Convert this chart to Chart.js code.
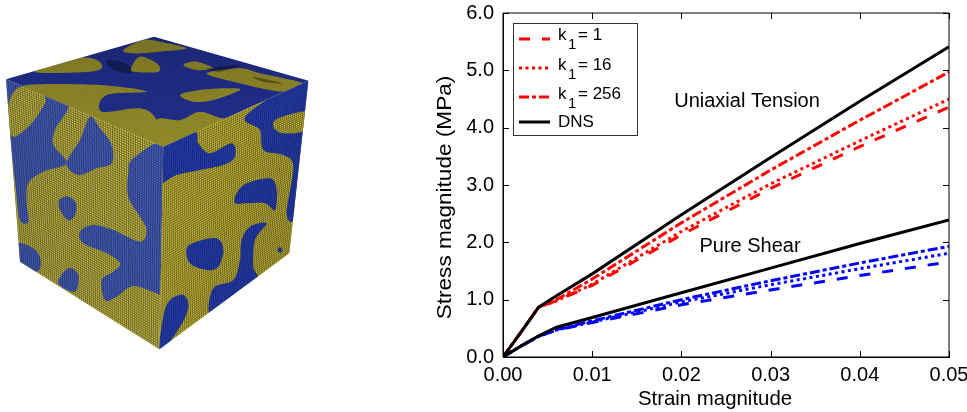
<!DOCTYPE html>
<html>
<head>
<meta charset="utf-8">
<title>Stress vs strain</title>
<script src="https://cdn.jsdelivr.net/npm/chart.js@4"></script>
<style>
html, body { margin: 0; padding: 0; background: #fff; }
#wrap { position: relative; width: 967px; height: 412px; }
</style>
</head>
<body>
<div id="wrap"><canvas id="myChart" width="967" height="412"></canvas></div>
<script>
// values
const strain = [0, 0.002, 0.004, 0.006, 0.01, 0.02, 0.03, 0.04, 0.05];
const tensionDns = [0, 0.43, 0.87, 1.07, 1.45, 2.48, 3.48, 4.46, 5.41];
const tensionK1 = [0, 0.43, 0.87, 0.98, 1.25, 2.13, 2.94, 3.67, 4.36];
const tensionK16 = [0, 0.43, 0.87, 0.98, 1.27, 2.19, 3.02, 3.77, 4.50];
const tensionK256 = [0, 0.43, 0.87, 1.00, 1.36, 2.34, 3.26, 4.13, 4.97];
const shearDns = [0, 0.19, 0.37, 0.52, 0.69, 1.12, 1.55, 1.98, 2.39];
const shearK1 = [0, 0.19, 0.36, 0.47, 0.60, 0.91, 1.17, 1.42, 1.66];
const shearK16 = [0, 0.19, 0.36, 0.47, 0.61, 0.96, 1.26, 1.54, 1.81];
const shearK256 = [0, 0.19, 0.36, 0.48, 0.63, 1.00, 1.33, 1.64, 1.93];
const xTicks = [0, 0.01, 0.02, 0.03, 0.04, 0.05];
const yTicks = [0, 1, 2, 3, 4, 5, 6];

const DASHED = [11, 12];
const DOTTED = [3, 3.5];
const DASHDOT = [10, 3, 4, 3];
const FONT = '"Liberation Sans", Arial, sans-serif';

function series(label, values, color, dash) {
    return {
        label: label,
        data: values.map((v, i) => ({ x: strain[i], y: v })),
        borderColor: color,
        borderWidth: 3,
        borderDash: dash,
        pointRadius: 0,
        tension: 0,
        fill: false
    };
}

// first dataset ends up on top
const datasets = [
    series('DNS tension', tensionDns, '#000', []),
    series('DNS shear', shearDns, '#000', []),
    series('k1 = 1 tension', tensionK1, '#f00', DASHED),
    series('k1 = 16 tension', tensionK16, '#f00', DOTTED),
    series('k1 = 256 tension', tensionK256, '#f00', DASHDOT),
    series('k1 = 1 shear', shearK1, '#00f', DASHED),
    series('k1 = 16 shear', shearK16, '#00f', DOTTED),
    series('k1 = 256 shear', shearK256, '#00f', DASHDOT)
];

// small inward ticks on all four sides
const innerTicks = {
    id: 'innerTicks',
    afterDraw(chart) {
        const { ctx, chartArea: a, scales } = chart;
        ctx.save();
        ctx.strokeStyle = '#000';
        ctx.lineWidth = 1;
        ctx.beginPath();
        xTicks.forEach(t => {
            const x = Math.round(scales.x.getPixelForValue(t)) + 0.5;
            ctx.moveTo(x, a.bottom); ctx.lineTo(x, a.bottom - 6);
            ctx.moveTo(x, a.top); ctx.lineTo(x, a.top + 6);
        });
        yTicks.forEach(t => {
            const y = Math.round(scales.y.getPixelForValue(t)) + 0.5;
            ctx.moveTo(a.left, y); ctx.lineTo(a.left + 6, y);
            ctx.moveTo(a.right, y); ctx.lineTo(a.right - 6, y);
        });
        ctx.rect(a.left, a.top, a.right - a.left, a.bottom - a.top);
        ctx.stroke();
        ctx.restore();
    }
};

const legendRows = [
    { name: 'k', sub: '1', rest: '= 1', color: '#f00', dash: DASHED, y: 35, lineY: 39 },
    { name: 'k', sub: '1', rest: '= 16', color: '#f00', dash: DOTTED, y: 65, lineY: 68 },
    { name: 'k', sub: '1', rest: '= 256', color: '#f00', dash: DASHDOT, y: 94, lineY: 97 },
    { name: 'DNS', sub: '', rest: '', color: '#000', dash: [], y: 122, lineY: 122 }
];

const boxLegend = {
    id: 'boxLegend',
    afterDraw(chart) {
        const ctx = chart.ctx;
        ctx.save();
        ctx.fillStyle = '#fff';
        ctx.fillRect(513, 23, 124, 112);
        ctx.strokeStyle = '#333';
        ctx.lineWidth = 1;
        ctx.strokeRect(513.5, 23.5, 124, 112);
        ctx.textBaseline = 'middle';
        legendRows.forEach(r => {
            ctx.beginPath();
            ctx.setLineDash(r.dash);
            ctx.strokeStyle = r.color;
            ctx.lineWidth = 3;
            ctx.moveTo(519, r.lineY);
            ctx.lineTo(550, r.lineY);
            ctx.stroke();
            ctx.setLineDash([]);
            ctx.fillStyle = '#000';
            ctx.font = '17px ' + FONT;
            ctx.fillText(r.name, 558, r.y);
            if (r.sub) {
                ctx.font = '15px ' + FONT;
                ctx.fillText(r.sub, 568, r.y + 10);
                ctx.font = '17px ' + FONT;
                ctx.fillText(r.rest, 578, r.y);
            }
        });
        ctx.font = '20px ' + FONT;
        ctx.textAlign = 'center';
        ctx.fillText('Uniaxial Tension', 747, 101);
        ctx.fillText('Pure Shear', 750, 246);
        ctx.font = '20.4px ' + FONT;
        ctx.fillText('Strain magnitude', 715, 399);
        // the y title is stretched a bit along its length in the source
        ctx.translate(445, 197.5);
        ctx.rotate(-Math.PI / 2);
        ctx.scale(1.13, 1);
        ctx.font = '20px ' + FONT;
        ctx.fillText('Stress magnitude (MPa)', 0, 0);
        ctx.restore();
    }
};

// the cube picture on the left, outlines given in crop coordinates
const faceLeft = [[18, 118], [490, 320], [478, 928], [60, 665]];
const faceRight = [[490, 320], [925, 122], [868, 640], [478, 928]];
const faceTop = [[18, 118], [462, -10], [925, 122], [490, 320]];

const leftBlue = [
    [[18, 118], [200, 178], [165, 270], [160, 315], [200, 370], [130, 395], [85, 430], [80, 490], [85, 545], [60, 540], [48, 450], [30, 290], [18, 200]],
    [[270, 230], [300, 265], [335, 315], [335, 370], [290, 385], [235, 405], [200, 370], [240, 300]],
    [[205, 470], [228, 490], [225, 525], [205, 540], [180, 510], [178, 480]],
    [[495, 320], [400, 355], [385, 400], [385, 470], [420, 530], [440, 570], [420, 605], [340, 570], [280, 555], [240, 575], [250, 610], [320, 640], [360, 670], [340, 695], [305, 720], [315, 780], [350, 770], [400, 738], [470, 760], [500, 770], [520, 640], [500, 560]],
    [[50, 610], [100, 625], [122, 660], [110, 695], [50, 665]],
    [[205, 685], [235, 705], [225, 755], [175, 730]]
];
const leftYellow = [
    [[24, 200], [60, 140], [135, 170], [120, 215], [80, 265], [35, 288]]
];
const rightBlue = [
    [[470, 330], [580, 275], [595, 310], [630, 340], [695, 310], [705, 350], [670, 375], [600, 390], [530, 405], [470, 430]],
    [[740, 225], [780, 270], [790, 330], [850, 345], [880, 380], [860, 520], [885, 525], [915, 300], [935, 115]],
    [[740, 430], [810, 415], [830, 450], [825, 510], [795, 490], [740, 490], [705, 490], [710, 460]],
    [[800, 550], [750, 560], [725, 600], [720, 660], [700, 720], [640, 745], [628, 820], [680, 780], [770, 720], [760, 680], [765, 600]],
    [[560, 625], [590, 605], [650, 595], [670, 630], [655, 680], [620, 690], [570, 670]],
    [[510, 780], [550, 765], [565, 800], [540, 860], [480, 935], [490, 830]],
    [[840, 622], [848, 630], [840, 638], [832, 630]]
];
const rightYellow = [
    [[820, 260], [835, 235], [925, 215], [915, 270], [850, 280]]
];
const topYellow = [
    [[370, 30], [430, 0], [480, 5], [560, 25], [480, 35], [400, 40]],
    [[105, 95], [230, 55], [290, 60], [305, 85], [250, 97]],
    [[395, 80], [420, 50], [470, 70], [475, 95], [400, 95]],
    [[550, 75], [590, 65], [640, 85], [590, 90]],
    [[620, 100], [720, 85], [780, 100], [925, 135], [850, 155], [700, 125]],
    [[540, 165], [600, 150], [680, 145], [720, 150], [640, 180], [580, 185]],
    [[80, 135], [300, 135], [440, 155], [320, 165], [305, 215], [420, 205], [470, 240], [490, 325], [120, 165]],
    [[470, 240], [540, 240], [600, 215], [670, 235], [745, 230], [490, 325]]
];
const topDark = [
    [[320, 60], [380, 72], [395, 100], [340, 88]],
    [[620, 85], [720, 75], [660, 95]],
    [[760, 110], [850, 130], [790, 125]]
];

function blobPath(ctx, pts) {
    // closed Catmull-Rom outline through the points
    const n = pts.length;
    ctx.beginPath();
    ctx.moveTo(pts[0][0], pts[0][1]);
    for (let i = 0; i < n; i++) {
        const a = pts[(i + n - 1) % n], b = pts[i], c = pts[(i + 1) % n], d = pts[(i + 2) % n];
        ctx.bezierCurveTo(b[0] + (c[0] - a[0]) / 6, b[1] + (c[1] - a[1]) / 6,
            c[0] - (d[0] - b[0]) / 6, c[1] - (d[1] - b[1]) / 6, c[0], c[1]);
    }
    ctx.closePath();
}

function lerp(a, b, t) {
    return [a[0] + (b[0] - a[0]) * t, a[1] + (b[1] - a[1]) * t];
}

function drawFace(ctx, opts) {
    const face = opts.face;
    ctx.save();
    ctx.beginPath();
    face.forEach((p, i) => i ? ctx.lineTo(p[0], p[1]) : ctx.moveTo(p[0], p[1]));
    ctx.closePath();
    ctx.fillStyle = opts.base;
    ctx.fill();
    ctx.clip();
    ctx.fillStyle = opts.blobColor;
    opts.blobs.forEach(b => { blobPath(ctx, b); ctx.fill(); });
    ctx.fillStyle = opts.patchColor;
    opts.patches.forEach(b => { blobPath(ctx, b); ctx.fill(); });
    ctx.fillStyle = 'rgba(0,0,0,0.35)';
    (opts.dark || []).forEach(b => { blobPath(ctx, b); ctx.fill(); });
    // voxel mesh
    ctx.strokeStyle = opts.mesh;
    ctx.lineWidth = opts.meshWidth;
    ctx.beginPath();
    for (let i = 0; i <= opts.cellsA; i++) {
        const t = i / opts.cellsA;
        const p = lerp(face[0], face[1], t), q = lerp(face[3], face[2], t);
        ctx.moveTo(p[0], p[1]); ctx.lineTo(q[0], q[1]);
    }
    for (let i = 0; i <= opts.cellsB; i++) {
        const t = i / opts.cellsB;
        const p = lerp(face[0], face[3], t), q = lerp(face[1], face[2], t);
        ctx.moveTo(p[0], p[1]); ctx.lineTo(q[0], q[1]);
    }
    ctx.stroke();
    ctx.restore();
}

const cube = {
    id: 'cube',
    beforeDraw(chart) {
        const ctx = chart.ctx;
        ctx.save();
        ctx.translate(0, 40);
        ctx.scale(1 / 3, 1 / 3);
        drawFace(ctx, { face: faceTop, base: '#2e42c0', blobColor: '#d0c434', blobs: topYellow,
            patches: [], patchColor: '#d0c434', dark: topDark, cellsA: 92, cellsB: 92,
            mesh: 'rgba(10,10,20,0.42)', meshWidth: 1.8 });
        drawFace(ctx, { face: faceLeft, base: '#cfc340', blobColor: '#4a66d0', blobs: leftBlue,
            patches: leftYellow, patchColor: '#cfc340', cellsA: 68, cellsB: 82,
            mesh: 'rgba(20,20,30,0.55)', meshWidth: 2.2 });
        drawFace(ctx, { face: faceRight, base: '#d8c832', blobColor: '#2644d0', blobs: rightBlue,
            patches: rightYellow, patchColor: '#d8c832', cellsA: 68, cellsB: 82,
            mesh: 'rgba(20,20,30,0.55)', meshWidth: 2.2 });
        ctx.restore();
    }
};

const tickFont = { family: FONT, size: 20 };
const ctx = document.getElementById('myChart').getContext('2d');
new Chart(ctx, {
    type: 'line',
    data: { datasets: datasets },
    plugins: [cube, innerTicks, boxLegend],
    options: {
        responsive: false,
        animation: false,
        layout: { padding: { left: 434, top: 13, right: 18, bottom: 0 } },
        plugins: { legend: { display: false }, tooltip: { enabled: false } },
        scales: {
            x: {
                type: 'linear',
                min: 0,
                max: 0.05,
                afterFit(scale) { scale.height = 55; scale.paddingLeft = 0; scale.paddingRight = 0; },
                afterBuildTicks(scale) { scale.ticks = xTicks.map(v => ({ value: v })); },
                grid: { drawOnChartArea: false, drawTicks: false },
                border: { color: '#000' },
                ticks: { color: '#000', font: tickFont, padding: 6, maxRotation: 0, callback: v => v.toFixed(2) },
                title: { display: false }
            },
            y: {
                type: 'linear',
                min: 0,
                max: 6,
                afterFit(scale) { scale.width = 69; scale.paddingTop = 0; scale.paddingBottom = 0; },
                afterBuildTicks(scale) { scale.ticks = yTicks.map(v => ({ value: v })); },
                grid: { drawOnChartArea: false, drawTicks: false },
                border: { color: '#000' },
                ticks: { color: '#000', font: tickFont, padding: 9, callback: v => v.toFixed(1) },
                title: { display: false }
            }
        }
    }
});
</script>
</body>
</html>
